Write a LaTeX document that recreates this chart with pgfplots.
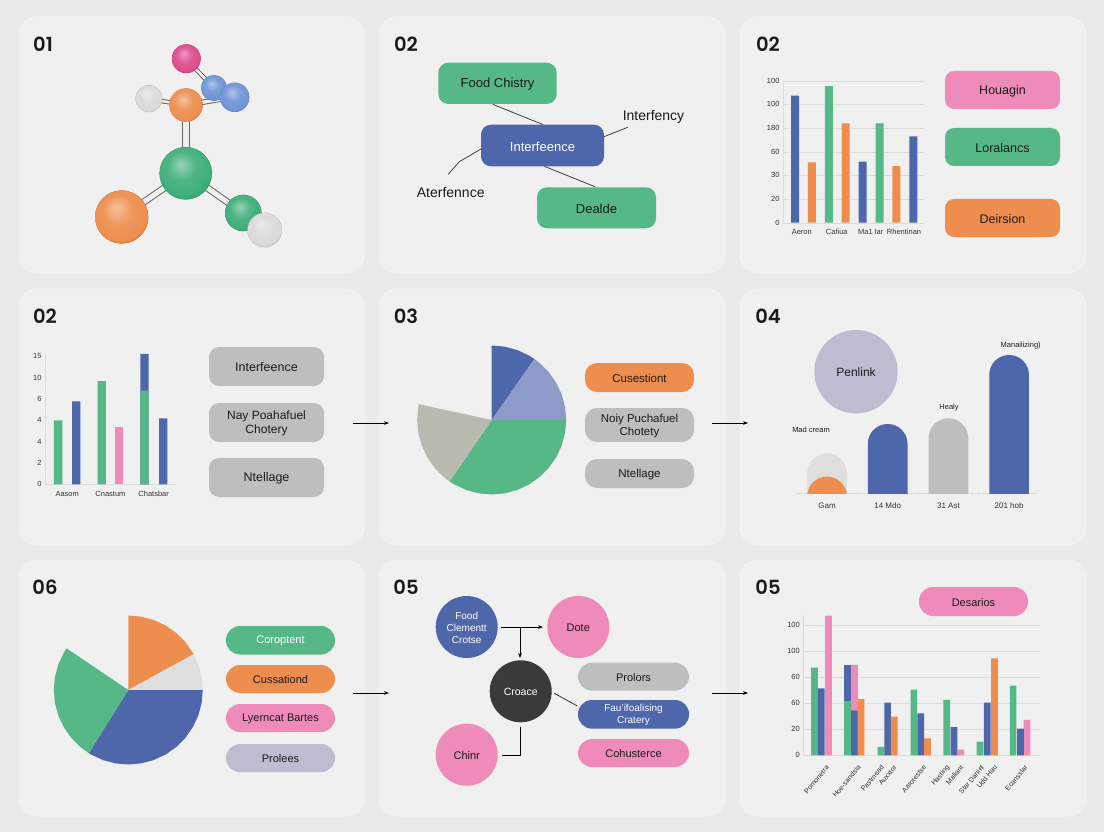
\documentclass[border=0pt]{standalone}
\usepackage{fontspec}
\setmainfont{Liberation Sans}
\newfontfamily\numfont{Poppins SemiBold}
\usepackage{pgfplots}
\pgfplotsset{compat=1.18}
\usepgfplotslibrary{polar}
\usetikzlibrary{arrows.meta}

\definecolor{bgc}{HTML}{EAEAEA}
\definecolor{panelc}{HTML}{F0F0F0}
\definecolor{edgec}{HTML}{F3F3F3}
\definecolor{blu}{HTML}{4E67AA}
\definecolor{grn}{HTML}{55B886}
\definecolor{org}{HTML}{EE8E4E}
\definecolor{pnk}{HTML}{EE8BB8}
\definecolor{gry}{HTML}{BEBEBE}
\definecolor{lav}{HTML}{BDBCD0}
\definecolor{dark}{HTML}{3A3A3A}
\definecolor{peri}{HTML}{8E9AC7}
\definecolor{stone}{HTML}{B9BAB0}
\definecolor{pale}{HTML}{DEDEDE}
\definecolor{gridc}{HTML}{DCDCDC}
\definecolor{ink}{HTML}{1A1A1A}
\definecolor{magc}{HTML}{DD4B8E}
\definecolor{ltblu}{HTML}{6F95D6}
\definecolor{ltgry}{HTML}{DADADA}
\definecolor{sgrn}{HTML}{3FAE7C}

\newcommand{\fs}[1]{\fontsize{#1pt}{\dimexpr#1pt*12/10\relax}\selectfont}

% ball shading, colour is taken from ballc
\colorlet{ballc}{gry}
\pgfdeclareradialshading[ballc]{softball}{\pgfqpoint{-5bp}{9bp}}{%
  color(0bp)=(ballc!55!white);
  color(14bp)=(ballc!92!white);
  color(26bp)=(ballc);
  color(31bp)=(ballc!88!black);
  color(50bp)=(ballc!75!black)}
\newcommand{\ball}[4]{\colorlet{ballc}{#4}%
  \fill[ballc!80!black] (#1,#2) circle[radius=#3];
  \shade[shading=softball] (#1,#2) circle[radius=#3-0.3];}
% #1 gap between the two strokes
\newcommand{\dbond}[5][3.5pt]{%
  \draw[black!60,line width=1pt,double=panelc,double distance=#1] (#2,#3)--(#4,#5);}

\pgfplotsset{
  chart/.style={scale only axis,
    axis x line=bottom, axis y line=left,
    axis line style={-,draw=gridc},
    major tick length=0pt,
    tick label style={text=black!80},
    /pgf/number format/assume math mode=true,
    ticklabel style={font=\fs{7.5}},
    x tick label style={yshift=-3pt,text height=5.5pt,text depth=1.5pt},
    clip=false},
  cbar/.style={ybar,bar shift=0pt,draw=none,fill=#1},
  arch/.style={draw=none,fill=#1,no marks,rounded corners=19.8pt},
  pie/.style={hide axis,scale only axis,clip=false,anchor=center,
    width=149pt,height=149pt,xmin=0,xmax=360,ymin=0,ymax=1},
  wedge/.style={draw=none,fill=#1,no marks}
}

\begin{document}
\begin{tikzpicture}[x=1pt,y=-1pt]
\path[use as bounding box] (0,0) rectangle (1104,832);
\fill[bgc] (0,0) rectangle (1104,832);

% nine cards
\foreach \xa/\xb in {19/364,379/725,740/1086}
  \foreach \ya/\yb in {17/273,289/545,560/816}
    \filldraw[fill=panelc,draw=edgec,line width=1pt,rounded corners=18pt] (\xa,\ya) rectangle (\xb,\yb);

% card numbers
\foreach \x/\y/\t in {43/44/01,406/44/02,768/44/02,45/316/02,406/316/03,768/316/04,45/587/06,406/587/05,768/587/05}
  \node[font=\numfont\fs{19.5},text=ink] at (\x,\y) {\t};

% ---- molecule
\dbond[2.5pt]{186}{59}{214}{88}
\dbond[2.5pt]{149}{99}{186}{105}
\dbond[3.5pt]{186}{105}{234}{97}
\dbond[6.5pt]{186}{105}{186}{173}
\dbond[5pt]{186}{173}{122}{217}
\dbond[5pt]{186}{173}{243}{213}
\ball{186.3}{58.7}{14.5}{magc}
\ball{214}{88}{13}{ltblu}
\ball{234.7}{97.3}{14.7}{ltblu}
\ball{149}{98.7}{13.5}{ltgry}
\ball{186}{105}{16.7}{org}
\ball{185.7}{173.3}{26.3}{sgrn}
\ball{121.7}{217}{26.7}{org}
\ball{243.3}{213}{18.3}{sgrn}
\ball{264.7}{230}{17.3}{ltgry}

\begin{scope}[every node/.append style={yshift=-1pt}]
% ---- concept map, top middle
\draw[black!75,line width=.8pt] (492.7,104.3)--(543.3,124.7);
\draw[black!75,line width=.8pt] (544.3,166.3)--(595,186.7);
\draw[black!75,line width=.8pt] (604,136.7)--(627.7,127.3);
\draw[black!75,line width=.8pt] (481,149)--(459.3,161.7)--(448.3,174.3);
\fill[grn,rounded corners=10pt] (438.3,62.7) rectangle (556.7,104);
\fill[blu,rounded corners=10pt] (481,124.7) rectangle (604,166.3);
\fill[grn,rounded corners=10pt] (537,187.3) rectangle (656,228.3);
\node[font=\fs{13},text=ink] at (497.5,83.5) {Food Chistry};
\node[font=\fs{13},text=white] at (542.5,145.5) {Interfeence};
\node[font=\fs{13},text=ink] at (596.5,208) {Dealde};
\node[font=\fs{14},text=ink] at (653.5,116) {Interfency};
\node[font=\fs{14},text=ink] at (450.7,191.7) {Aterfennce};

% ---- pills
\fill[pnk,rounded corners=9pt] (945,71) rectangle (1060,109);
\fill[grn,rounded corners=9pt] (945,128) rectangle (1060,166);
\fill[org,rounded corners=9pt] (945,199) rectangle (1060,237);
\node[font=\fs{12.5},text=ink] at (1002.5,90) {Houagin};
\node[font=\fs{12.5},text=ink] at (1002.5,147) {Loralancs};
\node[font=\fs{12.5},text=ink] at (1002.5,218) {Deirsion};

\fill[gry,rounded corners=10pt] (209,347) rectangle (324,386);
\fill[gry,rounded corners=10pt] (209,403) rectangle (324,442);
\fill[gry,rounded corners=10pt] (209,458) rectangle (324,497);
\node[font=\fs{12.5},text=ink] at (266.5,366.5) {Interfeence};
\node[font=\fs{12},text=ink,align=center] at (266.5,422.5) {Nay Poahafuel\\Chotery};
\node[font=\fs{12.5},text=ink] at (266.5,477.5) {Ntellage};

\fill[org,rounded corners=12pt] (585,363) rectangle (694,392);
\fill[gry,rounded corners=12pt] (585,408) rectangle (694,442);
\fill[gry,rounded corners=12pt] (585,459) rectangle (694,488);
\node[font=\fs{11.5},text=ink] at (639.5,377.5) {Cusestiont};
\node[font=\fs{11.5},text=ink,align=center] at (639.5,425) {Noiy Puchafuel\\Chotety};
\node[font=\fs{11.5},text=ink] at (639.5,473.5) {Ntellage};

\fill[grn,rounded corners=14pt] (226,626) rectangle (335,654.5);
\fill[org,rounded corners=14pt] (226,665) rectangle (335,693);
\fill[pnk,rounded corners=14pt] (226,704) rectangle (335,732);
\fill[lav,rounded corners=14pt] (226,744) rectangle (335,772);
\node[font=\fs{11},text=white] at (280.5,640) {Coroptent};
\node[font=\fs{11},text=ink] at (280.5,679) {Cussationd};
\node[font=\fs{11},text=ink] at (280.5,718) {Lyerncat Bartes};
\node[font=\fs{11},text=ink] at (280.5,758) {Prolees};

% ---- flow, bottom middle
\draw[black,line width=.8pt,-{Stealth[length=5pt]}] (501,627)--(543,627);
\draw[black,line width=.8pt,-{Stealth[length=5pt]}] (520,627)--(520,658);
\draw[black!80,line width=.8pt] (554.3,693.3)--(577.3,706);
\draw[black,line width=.8pt] (520,726.7)--(520,755.7)--(501.7,755.7);
\fill[blu] (466.7,627) circle[radius=31];
\fill[pnk] (578.3,627) circle[radius=31];
\fill[dark] (520.7,691.3) circle[radius=31];
\fill[pnk] (466.7,754.7) circle[radius=31];
\node[font=\fs{10},text=white,align=center] at (466.7,627) {Food\\Clementt\\Crotse};
\node[font=\fs{11},text=ink] at (578.3,627) {Dote};
\node[font=\fs{10.5},text=white] at (520.7,691.3) {Croace};
\node[font=\fs{11},text=ink] at (466.7,754.7) {Chinr};
\fill[gry,rounded corners=14pt] (578,662.7) rectangle (689,690.7);
\fill[blu,rounded corners=14pt] (578,700) rectangle (689,728.7);
\fill[pnk,rounded corners=14pt] (578,739) rectangle (689,767);
\node[font=\fs{11},text=ink] at (633.5,676.7) {Prolors};
\node[font=\fs{10},text=white,align=center] at (633.5,714.3) {Fau'ifoalising\\Cratery};
\node[font=\fs{11},text=ink] at (633.5,753) {Cohusterce};

\fill[pnk,rounded corners=14pt] (919,587) rectangle (1028,616);
\node[font=\fs{11},text=ink] at (973.5,601.5) {Desarios};

% ---- arrows between the cards
\foreach \xa/\y in {353/423,712/423,353/693,712/693}
  \draw[black,line width=.8pt,-{Stealth[length=5pt]}] (\xa,\y)--(\xa+36,\y);

% ---- labels, rounded bar card
\fill[lav] (856,371.7) circle[radius=41.7];
\node[font=\fs{12},text=ink] at (856,371.7) {Penlink};
\node[font=\fs{7.5},text=ink] at (811,429) {Mad cream};
\node[font=\fs{7.5},text=ink] at (949,406.5) {Healy};
\node[font=\fs{7.5},text=ink] at (1020.7,344.5) {Manailizing)};
\end{scope}

% ---- bar chart, top right
\begin{axis}[chart,at={(783pt,-222.7pt)},anchor=south west,width=142pt,height=142pt,
  xmin=-0.71,xmax=7.69,ymin=0,ymax=120,
  xtick={0.4,2.47,4.48,6.45},xticklabels={Aeron,Cafiua,Ma1 lar,Rhentinan},
  ytick={0,20,40,60,80,100,120},yticklabels={0,20,30,60,180,100,100},
  ymajorgrids=true,grid style={gridc}]
  \addplot[cbar=blu,bar width=8pt] coordinates {(0,107.4)(4,51.6)(7,73)};
  \addplot[cbar=org,bar width=8pt] coordinates {(1,51)(3,84)(6,47.8)};
  \addplot[cbar=grn,bar width=8pt] coordinates {(2,115.4)(5,84)};
\end{axis}

% ---- bar chart, middle left
\begin{axis}[chart,at={(45pt,-484.3pt)},anchor=south west,width=130.7pt,height=130.4pt,
  xmin=-0.514,xmax=2.51,ymin=0,ymax=12.22,
  xtick={0,1,2},xticklabels={Aasom,Cnastum,Chatsbar},
  ytick={0,2,4,6,8,10,12},yticklabels={0,2,4,4,6,10,15}]
  \addplot[cbar=blu,bar width=8.3pt] coordinates {(0.21,7.78)(1.79,12.22)(2.22,6.18)};
  \addplot[cbar=grn,bar width=8.3pt] coordinates {(-0.21,6)(0.8,9.68)(1.79,8.78)};
  \addplot[cbar=pnk,bar width=8.3pt] coordinates {(1.2,5.4)};
\end{axis}

% ---- bar chart, bottom right
\begin{axis}[chart,at={(803.3pt,-755.3pt)},anchor=south west,width=236.7pt,height=140.8pt,
  xmin=-0.54,xmax=6.59,ymin=0,ymax=108,
  xtick={0.21,1.17,1.87,2.25,3.14,3.83,4.26,4.88,5.28,6.2},
  xticklabels={Pomonetra,Hoe-sandsia,Pastmead,Auxxtor,Aarotestse,Hasting,Maliant,Star Daniel,Udd Hau,Ecansslar},
  x tick label style={rotate=50,anchor=east,yshift=-5pt,xshift=-3pt,font=\fs{7}},
  ytick={0,20,40,60,80,100},yticklabels={0,20,60,60,100,100},
  ymajorgrids=true,grid style={gridc}]
  \addplot[cbar=grn,bar width=6.7pt] coordinates {(-0.2,67.3)(0.8,41.9)(1.8,6.4)(2.79,50.4)(3.78,42.5)(4.78,10.5)(5.78,53.5)};
  \addplot[cbar=pnk,bar width=6.7pt] coordinates {(0.22,107.2)(1,69.3)(4.2,4.3)(6.2,27.1)};
  \addplot[cbar=blu,bar width=6.7pt] coordinates {(0,51.4)(1,34.3)(2,40.4)(3,32.2)(4,21.7)(5,40.4)(6,20.5)};
  \addplot[cbar=org,bar width=6.7pt] coordinates {(1.2,43.2)(2.2,29.7)(3.2,13)(5.22,74.4)};
  % two-coloured bar: the blue part sits on the green one
  \addplot[ybar stacked,bar shift=0pt,draw=none,fill=grn,bar width=6.7pt,forget plot] coordinates {(0.8,41.9)};
  \addplot[ybar stacked,bar shift=0pt,draw=none,fill=blu,bar width=6.7pt,forget plot] coordinates {(0.8,27.4)};
\end{axis}

% ---- rounded bars, middle right
% arches run below ymin=0, the clip cuts off their rounded feet
\begin{axis}[chart,at={(795pt,-493.3pt)},anchor=south west,width=243pt,height=140pt,
  axis y line=none,clip=true,
  xmin=-0.527,xmax=3.476,ymin=0,ymax=140,
  xtick={0,1,2,3},xticklabels={Gam,14 Mdo,31 Ast,201 hob},
  ticklabel style={font=\fs{8}},
  x tick label style={yshift=-3.5pt},
  minor xtick={0.49,1.5,2.49},minor tick length=3pt,minor tick style={draw=gridc}]
  \addplot[arch=pale] coordinates {(-0.327,-30)(-0.327,40)(0.327,40)(0.327,-30)};
  \addplot[arch=org] coordinates {(-0.327,-30)(-0.327,16.7)(0.327,16.7)(0.327,-30)};
  \addplot[arch=blu] coordinates {(0.673,-30)(0.673,69.3)(1.327,69.3)(1.327,-30)};
  \addplot[arch=gry] coordinates {(1.673,-30)(1.673,75)(2.327,75)(2.327,-30)};
  \addplot[arch=blu] coordinates {(2.673,-30)(2.673,138.3)(3.327,138.3)(3.327,-30)};
\end{axis}

% ---- pie, middle
\begin{polaraxis}[pie,at={(491.7pt,-420pt)}]
  \addplot[wedge=blu] coordinates {(0,0)(90,1)(80,1)(70,1)(60,1)(55,1)};
  \addplot[wedge=peri] coordinates {(0,0)(55,1)(50,1)(40,1)(30,1)(20,1)(10,1)(0,1)};
  \addplot[wedge=grn] coordinates {(0,0)(360,1)(350,1)(340,1)(330,1)(320,1)(310,1)(300,1)(290,1)(280,1)(270,1)(260,1)(250,1)(240,1)(235.5,1)};
  \addplot[wedge=stone] coordinates {(0,0)(235.5,1)(230,1)(220,1)(210,1)(200,1)(190,1)(180,1)(170,1)(167.7,1)};
\end{polaraxis}

% ---- pie, bottom left
\begin{polaraxis}[pie,at={(128.3pt,-690pt)}]
  \addplot[wedge=org] coordinates {(0,0)(90,1)(80,1)(70,1)(60,1)(50,1)(40,1)(30,1)(28.7,1)};
  \addplot[wedge=pale] coordinates {(0,0)(28.7,1)(20,1)(10,1)(0,1)};
  \addplot[wedge=blu] coordinates {(0,0)(360,1)(350,1)(340,1)(330,1)(320,1)(310,1)(300,1)(290,1)(280,1)(270,1)(260,1)(250,1)(240,1)(238,1)};
  \addplot[wedge=grn] coordinates {(0,0)(238,1)(230,1)(220,1)(210,1)(200,1)(190,1)(180,1)(170,1)(160,1)(150,1)(146,1)};
\end{polaraxis}
\end{tikzpicture}
\end{document}
